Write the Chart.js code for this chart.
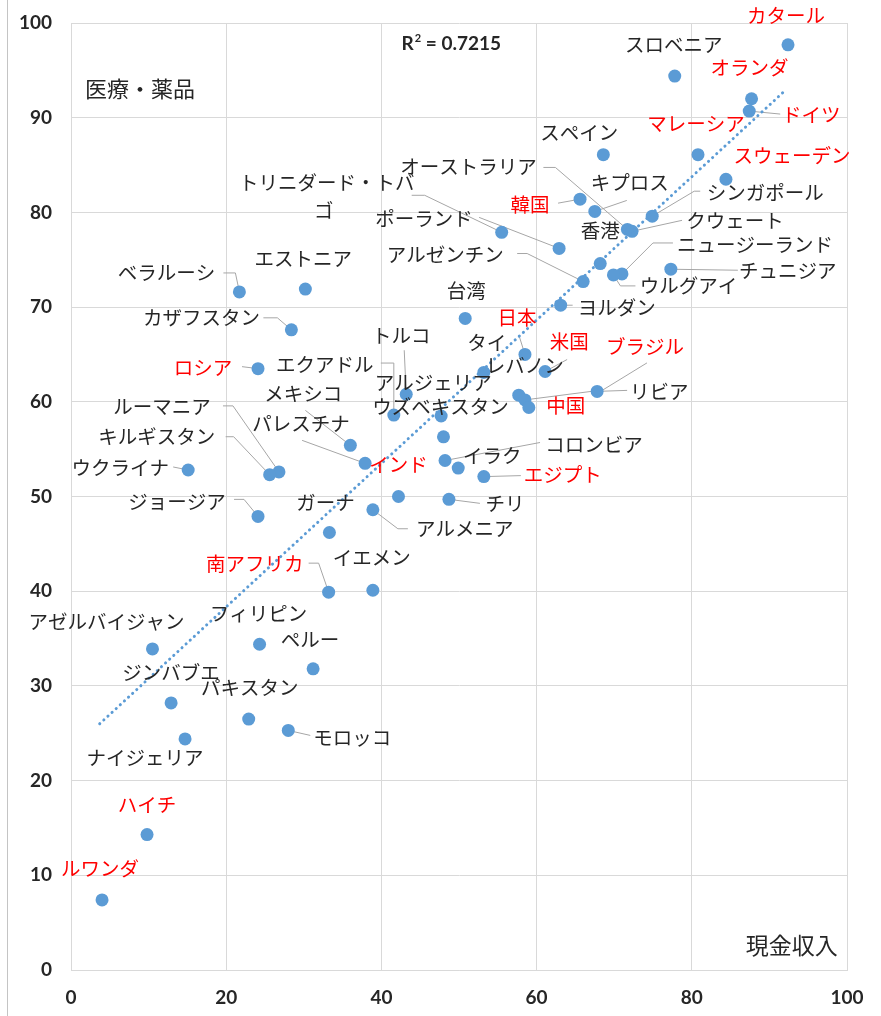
<!DOCTYPE html>
<html lang="ja">
<head>
<meta charset="utf-8">
<title>医療・薬品 と 現金収入</title>
<script src="https://cdn.jsdelivr.net/npm/chart.js@4.4.1/dist/chart.umd.min.js"></script>
<style>
  html, body { margin: 0; padding: 0; background: #fff; }
  #wrap { position: relative; width: 881px; height: 1016px; }
  #frame { position: absolute; left: 7px; top: 0; width: 1px; height: 1016px; background: #c4c4c4; }
  #scatterChart { position: absolute; left: 0; top: 0; }
</style>
</head>
<body>
<div id="wrap">
  <div id="frame"></div>
  <canvas id="scatterChart" width="881" height="1016"></canvas>
</div>
<script>
// --- data ---
const countries = [
  'カタール', 'スロベニア', 'オランダ', 'ドイツ', 'マレーシア', 'スウェーデン',
  'スペイン', '韓国', 'キプロス', 'オーストラリア', 'クウェート', 'シンガポール',
  '香港', 'ニュージーランド', 'ウルグアイ', 'チュニジア', 'アルゼンチン', 'ポーランド',
  'トリニダード・トバゴ', '台湾', 'ヨルダン', '日本', '米国', 'タイ',
  'レバノン', 'ブラジル', '中国', 'リビア', 'トルコ', 'エクアドル',
  'アルジェリア', 'ウズベキスタン', 'コロンビア', 'イラク', 'エジプト', 'チリ',
  'インド', 'アルメニア', 'ガーナ', 'メキシコ', 'パレスチナ', 'ベラルーシ',
  'エストニア', 'カザフスタン', 'ロシア', 'ルーマニア', 'キルギスタン', 'ウクライナ',
  'ジョージア', '南アフリカ', 'イエメン', 'アゼルバイジャン', 'フィリピン', 'ペルー',
  'ジンバブエ', 'パキスタン', 'モロッコ', 'ナイジェリア', 'ハイチ', 'ルワンダ'
];
const cashIncome = [
  92.4, 77.8, 87.7, 87.4, 80.8, 84.4,
  68.6, 65.6, 67.5, 71.7, 72.3, 74.9,
  68.2, 71.0, 69.9, 77.3, 66.0, 62.9,
  55.5, 50.8, 63.1, 58.5, 61.1, 53.2,
  57.7, 58.5, 59.0, 67.8, 43.2, 41.6,
  47.7, 48.0, 48.2, 49.9, 53.2, 48.7,
  42.2, 38.9, 33.3, 36.0, 37.9, 21.7,
  30.2, 28.4, 24.1, 26.8, 25.6, 15.1,
  24.1, 33.2, 38.9, 10.5, 24.3, 31.2,
  12.9, 22.9, 28.0, 14.7, 9.8, 4.0
];
const medicine = [
  97.7, 94.4, 92.0, 90.7, 86.1, 83.5,
  86.1, 81.4, 80.1, 78.2, 78.0, 79.6,
  74.6, 73.5, 73.4, 74.0, 72.7, 76.2,
  77.9, 68.8, 70.2, 65.0, 63.2, 63.1,
  60.7, 60.2, 59.4, 61.1, 60.8, 58.6,
  58.5, 56.3, 53.8, 53.0, 52.1, 49.7,
  50.0, 48.6, 46.2, 55.4, 53.5, 71.6,
  71.9, 67.6, 63.5, 52.6, 52.3, 52.8,
  47.9, 39.9, 40.1, 33.9, 34.4, 31.8,
  28.2, 26.5, 25.3, 24.4, 14.3, 7.4
];
const redCountries = [
  'カタール', 'オランダ', 'マレーシア', 'ドイツ', 'スウェーデン', '韓国', '日本', '米国',
  'ブラジル', 'ロシア', '中国', 'インド', 'エジプト', '南アフリカ', 'ハイチ', 'ルワンダ'
];
const trendX = [3.7, 92.2];
const trendY = [26.0, 93.0];
const rSquared = '0.7215';
const xTicks = [0, 20, 40, 60, 80, 100];
const yTicks = [0, 10, 20, 30, 40, 50, 60, 70, 80, 90, 100];
const yTitle = '医療・薬品';
const xTitle = '現金収入';

// label placement: text centre offset from the marker, optional leader line
const labelLayout = {
  'カタール': { dx: -2, dy: -29 },
  'スロベニア': { dx: -1, dy: -31 },
  'オランダ': { dx: -2, dy: -31 },
  'ドイツ': { dx: 62, dy: 4, lead: [[31, 3]] },
  'マレーシア': { dx: -2, dy: -31 },
  'スウェーデン': { dx: 66, dy: -24 },
  'スペイン': { dx: -24, dy: -22 },
  '韓国': { dx: -50, dy: 5, lead: [[-22, 4]] },
  'キプロス': { dx: 35, dy: -29, lead: [[32, -11]] },
  'オーストラリア': { dx: -159, dy: -63, lead: [[-84, -62], [-72, -62]] },
  'クウェート': { dx: 103, dy: -11, lead: [[50, -11]] },
  'シンガポール': { dx: 113, dy: -24, lead: [[48, -25], [42, -25]] },
  '香港': { dx: 0, dy: -33 },
  'ニュージーランド': { dx: 133, dy: -29, lead: [[51, -31], [31, -31]] },
  'ウルグアイ': { dx: 75, dy: 11, lead: [[22, 11], [7, 11]] },
  'チュニジア': { dx: 117, dy: 1, lead: [[67, 1]] },
  'アルゼンチン': { dx: -138, dy: -27, lead: [[-66, -28], [-56, -28]] },
  'ポーランド': { dx: -135, dy: -30, lead: [[-80, -31]] },
  'トリニダード・トバゴ': { dx: -175, dy: -50, wrap: 9, lead: [[-90, -37], [-77, -37]] },
  '台湾': { dx: 1, dy: -28 },
  'ヨルダン': { dx: 56, dy: 2, lead: [[12, 0]] },
  '日本': { dx: -8, dy: -37, lead: [[-6, -19]] },
  '米国': { dx: 24, dy: -30, lead: [[22, -12]] },
  'タイ': { dx: 3, dy: -30 },
  'レバノン': { dx: 6, dy: -30 },
  'ブラジル': { dx: 120, dy: -53, lead: [[122, -37], [78, -10]] },
  '中国': { dx: 37, dy: -2 },
  'リビア': { dx: 62, dy: 0, lead: [[30, -1]] },
  'トルコ': { dx: -5, dy: -59, lead: [[-2, -44]] },
  'エクアドル': { dx: -69, dy: -50, lead: [[-13, -52], [0, -52]] },
  'アルジェリア': { dx: -8, dy: -33 },
  'ウズベキスタン': { dx: -3, dy: -30 },
  'コロンビア': { dx: 149, dy: -16, lead: [[95, -18]] },
  'イラク': { dx: 34, dy: -12 },
  'エジプト': { dx: 79, dy: -2, lead: [[37, -1]] },
  'チリ': { dx: 56, dy: 4, lead: [[31, 4]] },
  'インド': { dx: 0, dy: -32 },
  'アルメニア': { dx: 92, dy: 19, lead: [[35, 19], [25, 19]] },
  'ガーナ': { dx: -4, dy: -30 },
  'メキシコ': { dx: -47, dy: -52, lead: [[-45, -35]] },
  'パレスチナ': { dx: -64, dy: -40, lead: [[-63, -23]] },
  'ベラルーシ': { dx: -73, dy: -19, lead: [[-16, -19], [-4, -19]] },
  'エストニア': { dx: -2, dy: -31 },
  'カザフスタン': { dx: -90, dy: -12, lead: [[-28, -12], [-14, -12]] },
  'ロシア': { dx: -55, dy: -1, lead: [[-16, -2]] },
  'ルーマニア': { dx: -117, dy: -65, lead: [[-56, -66], [-46, -66]] },
  'キルギスタン': { dx: -113, dy: -38, lead: [[-44, -38], [-36, -38]] },
  'ウクライナ': { dx: -68, dy: -2, lead: [[-15, -3]] },
  'ジョージア': { dx: -81, dy: -15, lead: [[-24, -17], [-14, -17]] },
  '南アフリカ': { dx: -74, dy: -29, lead: [[-20, -29], [-10, -29]] },
  'イエメン': { dx: -1, dy: -33 },
  'アゼルバイジャン': { dx: -46, dy: -27 },
  'フィリピン': { dx: -1, dy: -31 },
  'ペルー': { dx: -3, dy: -29 },
  'ジンバブエ': { dx: 0, dy: -30 },
  'パキスタン': { dx: 1, dy: -31 },
  'モロッコ': { dx: 64, dy: 7, lead: [[22, 5]] },
  'ナイジェリア': { dx: -40, dy: 19 },
  'ハイチ': { dx: 0, dy: -30 },
  'ルワンダ': { dx: -2, dy: -31 }
};

const labelFont = '19.5px "Noto Sans CJK JP", sans-serif';

// country names + leader lines
const countryLabels = {
  id: 'countryLabels',
  beforeDatasetsDraw(chart) {
    const ctx = chart.ctx;
    const pts = chart.getDatasetMeta(0).data;
    ctx.save();
    ctx.strokeStyle = '#a6a6a6';
    ctx.lineWidth = 1;
    countries.forEach((name, i) => {
      const lay = labelLayout[name];
      if (!lay || !lay.lead) return;
      const p = pts[i];
      ctx.beginPath();
      lay.lead.forEach((o, k) => {
        if (k === 0) ctx.moveTo(p.x + o[0], p.y + o[1]);
        else ctx.lineTo(p.x + o[0], p.y + o[1]);
      });
      ctx.lineTo(p.x, p.y);
      ctx.stroke();
    });
    ctx.restore();
  },
  afterDatasetsDraw(chart) {
    const ctx = chart.ctx;
    const pts = chart.getDatasetMeta(0).data;
    ctx.save();
    ctx.font = labelFont;
    ctx.textAlign = 'center';
    ctx.textBaseline = 'middle';
    countries.forEach((name, i) => {
      const lay = labelLayout[name] || { dx: 0, dy: -30 };
      const p = pts[i];
      ctx.fillStyle = redCountries.includes(name) ? '#ff0000' : '#262626';
      if (lay.wrap) {
        ctx.fillText(name.slice(0, lay.wrap), p.x + lay.dx, p.y + lay.dy);
        ctx.fillText(name.slice(lay.wrap), p.x + lay.dx - 3, p.y + lay.dy + 28);
      } else {
        ctx.fillText(name, p.x + lay.dx, p.y + lay.dy);
      }
    });
    ctx.restore();
  },
  afterDraw(chart) {
    const ctx = chart.ctx;
    const xs = chart.scales.x, ys = chart.scales.y;
    ctx.save();
    ctx.fillStyle = '#262626';
    ctx.textBaseline = 'middle';
    // R squared
    let x = xs.getPixelForValue(42.6);
    const y = ys.getPixelForValue(97.8);
    ctx.font = 'bold 19px Lato';
    ctx.textAlign = 'left';
    ctx.fillText('R', x, y);
    x += ctx.measureText('R').width + 1;
    ctx.font = 'bold 11px Lato';
    ctx.fillText('2', x, y - 5);
    x += ctx.measureText('2').width;
    ctx.font = 'bold 19px Lato';
    ctx.fillText(' = ' + rSquared, x, y);
    // axis captions inside the plot
    ctx.font = '22px "Noto Sans CJK JP"';
    ctx.fillText(yTitle, xs.getPixelForValue(1.8), ys.getPixelForValue(93.1));
    ctx.font = '23px "Noto Sans CJK JP"';
    ctx.textAlign = 'right';
    ctx.fillText(xTitle, xs.getPixelForValue(98.8), ys.getPixelForValue(2.6));
    ctx.restore();
  }
};

function initChart() {
  const points = countries.map((c, i) => ({ x: cashIncome[i], y: medicine[i] }));
  const trend = trendX.map((v, i) => ({ x: v, y: trendY[i] }));
  const tickFont = { family: 'Lato', size: 19, weight: 'bold' };

  new Chart(document.getElementById('scatterChart'), {
    type: 'scatter',
    data: {
      datasets: [
        {
          label: '医療・薬品',
          data: points,
          backgroundColor: '#5b9bd5',
          borderWidth: 0,
          pointRadius: 6.5,
          pointHoverRadius: 6.5,
          order: 1
        },
        {
          type: 'line',
          label: 'trend',
          data: trend,
          showLine: true,
          borderColor: '#5b9bd5',
          borderWidth: 3,
          borderDash: [0.1, 5.5],
          borderCapStyle: 'round',
          pointRadius: 0,
          fill: false,
          order: 0
        }
      ]
    },
    options: {
      responsive: false,
      animation: false,
      devicePixelRatio: 1,
      layout: { padding: { top: 23, right: 34, left: 0, bottom: 0 } },
      plugins: {
        legend: { display: false },
        tooltip: { enabled: false }
      },
      scales: {
        x: {
          min: 0,
          max: 100,
          afterBuildTicks: s => { s.ticks = xTicks.map(v => ({ value: v })); },
          afterFit: s => { s.height = 46; s.paddingLeft = 0; s.paddingRight = 0; },
          ticks: { font: tickFont, color: '#262626', padding: 16, maxRotation: 0 },
          grid: { color: '#d9d9d9', drawTicks: false },
          border: { color: '#d9d9d9' }
        },
        y: {
          min: 0,
          max: 100,
          afterBuildTicks: s => { s.ticks = yTicks.map(v => ({ value: v })); },
          afterFit: s => { s.width = 71; s.paddingTop = 0; s.paddingBottom = 0; },
          ticks: { font: tickFont, color: '#262626', padding: 19 },
          grid: { color: '#d9d9d9', drawTicks: false },
          border: { color: '#d9d9d9' }
        }
      }
    },
    plugins: [countryLabels]
  });
}

document.addEventListener('DOMContentLoaded', function () {
  initChart();
});
</script>
</body>
</html>
